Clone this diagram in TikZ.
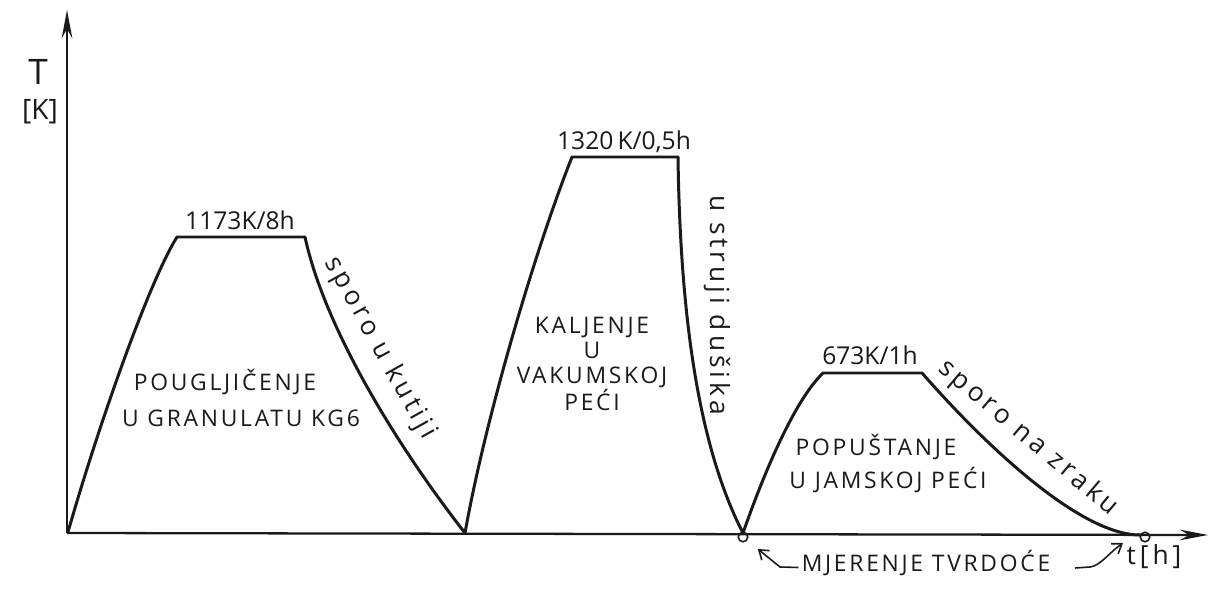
\documentclass[tikz,border=0pt]{standalone}
\usepackage{fontspec}
\setmainfont{Open Sans}
\newfontfamily\handcaps[LetterSpace=12]{Open Sans}
\newfontfamily\handlow[LetterSpace=15]{Open Sans}
\usetikzlibrary{arrows.meta}
\definecolor{ink}{HTML}{1A1A1A}
\begin{document}
\begin{tikzpicture}[x=0.02cm,y=-0.02cm,
  every node/.style={text=ink},
  curve/.style={draw=ink, line width=1.7pt, line join=round, line cap=round},
  axisline/.style={draw=ink, line width=1.3pt, -{Stealth[length=16pt,width=6pt]}},
  pointer/.style={draw=ink, line width=0.9pt, line join=round, -{Straight Barb[length=5pt,width=7pt]}},
  ring/.style={circle, draw=ink, line width=0.9pt, minimum size=0.19cm, inner sep=0pt},
  caps/.style={font=\handcaps\fontsize{13}{14.2}\selectfont, inner sep=0pt},
  lower/.style={font=\handlow\fontsize{15}{17}\selectfont, inner sep=0pt},
  num/.style={font=\fontsize{14}{16}\selectfont, inner sep=0pt}
]
\useasboundingbox[fill=white] (0,0) rectangle (1222,594);

% axes
\coordinate (O) at (67,533);
\coordinate (Ytip) at (67,10);
\coordinate (Xtip) at (1208,535);
\draw[axisline] (O) -- (Ytip);
\draw[axisline] (O) -- (Xtip);

% key points of the temperature curve
\coordinate (A0) at (68,532);
\coordinate (A1) at (177,237);
\coordinate (A2) at (305,237);
\coordinate (B0) at (465,533);
\coordinate (B1) at (572,157);
\coordinate (B2) at (678,157);
\coordinate (C0) at (743,533);
\coordinate (C1) at (823,373);
\coordinate (C2) at (922,373);
\coordinate (C3) at (1140,535);

\draw[curve] (A0) .. controls (100,420) and (150,280) .. (A1) -- (A2)
  .. controls (325,330) and (400,450) .. (B0)
  .. controls (485,420) and (535,250) .. (B1) -- (B2)
  .. controls (680,300) and (695,440) .. (C0)
  .. controls (765,470) and (795,400) .. (C1) -- (C2)
  .. controls (985,445) and (1080,535) .. (C3);

% measurement points
\node[ring] (M1) at (743,537) {};
\node[ring] (M2) at (1145,537) {};

% axis labels
\node[font=\fontsize{20}{22}\selectfont, inner sep=0pt] (T) at (38,72) {T};
\node[font=\fontsize{16}{18}\selectfont, inner sep=0pt] (K) at (40,112) {[K]};
\node[lower] (th) at (1154,557) {t[h]};

% plateau labels
\node[num] (p1) at (240,220) {1173K/8h};
\node[num] (p2) at (624,142) {1320\,K/0,5h};
\node[num] (p3) at (870,355) {673K/1h};

% phase labels
\node[caps] (pou) at (225,382) {POUGLJIČENJE};
\node[caps] (gran) at (241,418) {U GRANULATU KG6};
\node[caps, align=center] (kal) at (592,364) {KALJENJE\\U\\VAKUMSKOJ\\PEĆI};
\node[caps] (pop) at (876,447) {POPUŠTANJE};
\node[caps] (jam) at (888,480) {U JAMSKOJ PEĆI};

% cooling labels
\node[lower, rotate=-61] (kut) at (380,348) {sporo u kutiji};
\node[lower, rotate=-90] (dus) at (717,305) {u struji dušika};
\node[lower, rotate=-40] (zra) at (1028,438) {sporo na zraku};

% hardness measurement
\node[caps] (mj) at (926,563) {MJERENJE TVRDOĆE};
\coordinate (Lc) at (780,567);
\draw[pointer, shorten >=0.27cm] ([xshift=-0.06cm,yshift=-0.09cm]mj.west) -- (Lc) -- (M1);
\coordinate (R0) at (1075,568);
\coordinate (R1) at (1123,543);
\draw[pointer] (R0) -- (1090,567) .. controls (1100,566) and (1110,552) .. (R1);
\end{tikzpicture}
\end{document}
